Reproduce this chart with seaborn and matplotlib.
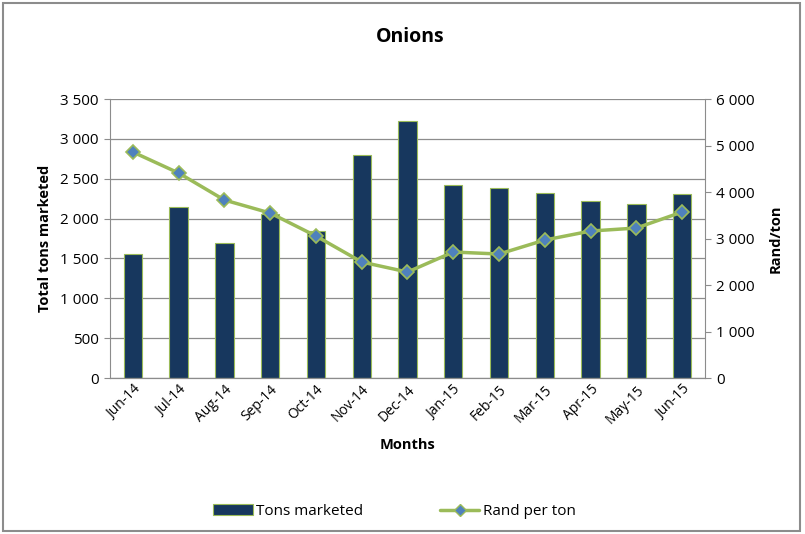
import seaborn as sns
import pandas as pd
import matplotlib.pyplot as plt
from matplotlib.patches import Rectangle, Patch
from matplotlib.lines import Line2D
from matplotlib.ticker import FuncFormatter

# Data
months = ["Jun-14", "Jul-14", "Aug-14", "Sep-14", "Oct-14", "Nov-14", "Dec-14",
          "Jan-15", "Feb-15", "Mar-15", "Apr-15", "May-15", "Jun-15"]
tons_marketed = [1556, 2145, 1694, 2057, 1844, 2797, 3224, 2421, 2383, 2321, 2220, 2183, 2308]
rand_per_ton = [4860, 4409, 3828, 3548, 3054, 2495, 2280, 2710, 2667, 2968, 3161, 3226, 3570]

df = pd.DataFrame({"month": months, "tons": tons_marketed, "rand": rand_per_ton})

sns.set_style("white")
plt.rcParams['font.family'] = ['Open Sans', 'DejaVu Sans']
plt.rcParams['text.color'] = 'black'
plt.rcParams['axes.labelcolor'] = 'black'
plt.rcParams['xtick.color'] = 'black'
plt.rcParams['ytick.color'] = 'black'

BAR = "#17375E"
GREEN = "#9BBB59"
BLUE = "#4F81BD"
GRID = "#8C8C8C"


def thousands(v, pos):
    return f"{v:,.0f}".replace(",", " ")


fig = plt.figure(figsize=(8.05, 5.34), dpi=100)
ax = fig.add_axes([0.1366, 0.292, 0.7392, 0.5226])
ax2 = ax.twinx()

# Bars (tons) on the left axis
sns.barplot(ax=ax, data=df, x="month", y="tons", color=BAR, width=0.4,
            saturation=1, edgecolor=GREEN, linewidth=0.8, zorder=2)
ax.set_ylim(0, 3500)
ax.set_yticks(range(0, 3501, 500))
ax.yaxis.set_major_formatter(FuncFormatter(thousands))
ax.yaxis.grid(True, color=GRID, linewidth=0.9)
ax.set_axisbelow(True)
ax.set_xlim(-0.5, len(months) - 0.5)

# Line (rand/ton) on the right axis
sns.pointplot(ax=ax2, data=df, x="month", y="rand", color=GREEN, markers="D",
              linestyles="-")
for ln in ax2.lines:
    ln.set_linewidth(2.5)
    ln.set_markersize(7)
    ln.set_markerfacecolor(BLUE)
    ln.set_markeredgecolor(GREEN)
    ln.set_markeredgewidth(1.2)
ax2.set_ylim(0, 6000)
ax2.set_yticks(range(0, 6001, 1000))
ax2.yaxis.set_major_formatter(FuncFormatter(thousands))
ax2.set_xlim(-0.5, len(months) - 0.5)

# Spines and ticks
for a in (ax, ax2):
    for s in a.spines.values():
        s.set_visible(False)
    a.spines["bottom"].set_visible(True)
    a.spines["bottom"].set_color(GRID)
ax.spines["left"].set_visible(True)
ax.spines["left"].set_color(GRID)
ax2.spines["right"].set_visible(True)
ax2.spines["right"].set_color(GRID)

ax.tick_params(axis="y", labelsize=11, length=4, color=GRID, left=True, pad=4)
ax2.tick_params(axis="y", labelsize=11, length=4, color=GRID, right=True, pad=4)
ax.tick_params(axis="x", labelsize=10, length=0, pad=3)
plt.setp(ax.get_xticklabels(), rotation=45, ha="right", rotation_mode="anchor")

ax.set_xlabel("Months", fontweight="bold", fontsize=10.5, labelpad=8)
ax.set_ylabel("Total tons marketed", fontweight="bold", fontsize=10.5, labelpad=6)
ax2.set_ylabel("Rand/ton", fontweight="bold", fontsize=10.5, labelpad=10)

fig.text(0.51, 0.93, "Onions", ha="center", va="center", fontsize=14, fontweight="bold")

handles = [Patch(facecolor=BAR, edgecolor=GREEN, linewidth=0.8),
           Line2D([0], [0], color=GREEN, linewidth=2.5, marker="D", markersize=6,
                  markerfacecolor=BLUE, markeredgecolor=GREEN)]
fig.legend(handles, ["Tons marketed", "Rand per ton"], loc="center",
           bbox_to_anchor=(0.49, 0.042), ncol=2, frameon=False, fontsize=11,
           columnspacing=5, handlelength=2.6, handletextpad=0.2)

# Chart border
fig.patches.append(Rectangle((0.004, 0.006), 0.99, 0.988, transform=fig.transFigure,
                             fill=False, edgecolor="#8C8C8C", linewidth=1.5))

fig.savefig("out.png", dpi=100)
plt.close(fig)
